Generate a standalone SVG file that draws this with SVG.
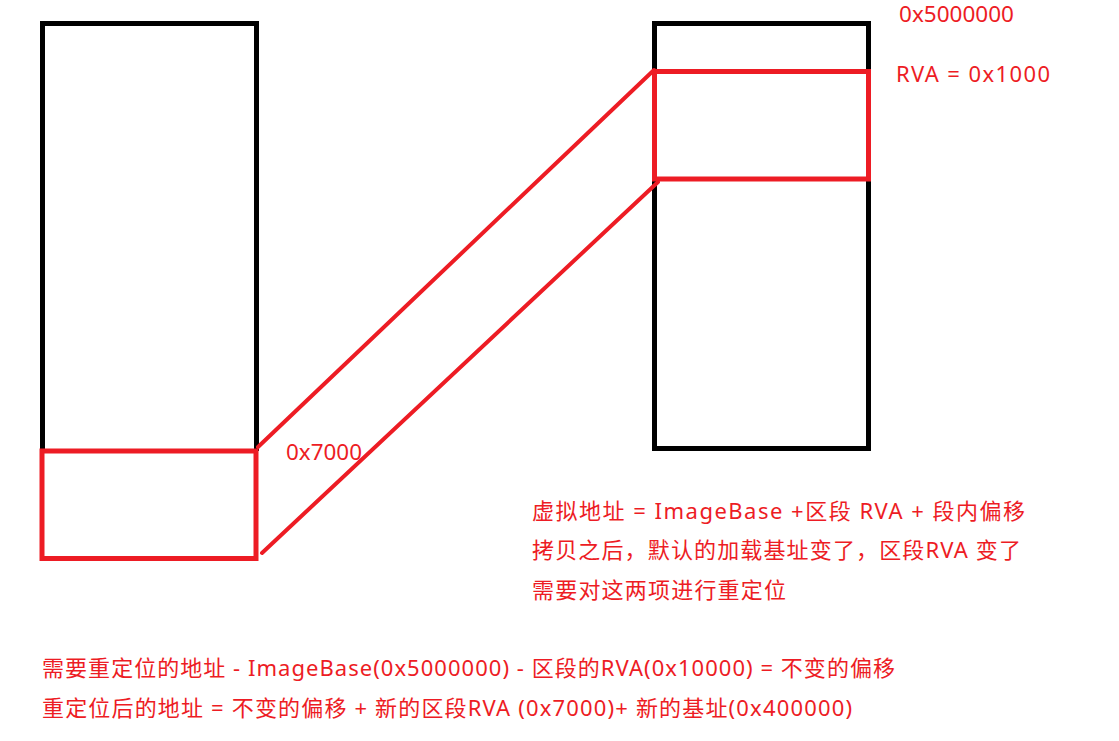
<svg xmlns="http://www.w3.org/2000/svg" width="1119" height="741" viewBox="0 0 1119 741">
<style>
.blk{fill:none;stroke:#000;stroke-width:5}
.red{fill:none;stroke:#ED1C24;stroke-width:5}
.ln{stroke:#ED1C24;stroke-width:4;stroke-linecap:round}
text{font-family:"Noto Sans","Noto Sans CJK SC",sans-serif;font-size:22px;fill:#ED1C24}
</style>
<rect width="1119" height="741" fill="#fff"/>
<g id="left-block">
<path class="blk" d="M42.5,451 V23.5 H256.5 V451"/>
<rect id="left-section" class="red" x="42" y="451" width="214" height="107.5"/>
</g>
<g id="right-block">
<rect class="blk" x="654.5" y="23.5" width="214" height="425"/>
<rect id="right-section" class="red" x="654.5" y="71.5" width="214" height="107.5"/>
</g>
<g id="connectors">
<line class="ln" x1="258" y1="447" x2="654" y2="70"/>
<line class="ln" x1="262" y1="553" x2="658" y2="182"/>
</g>
<g id="labels">
<text x="899" y="22" font-size="21" textLength="115" lengthAdjust="spacingAndGlyphs">0x5000000</text>
<text x="896" y="82" textLength="154" lengthAdjust="spacing">RVA = 0x1000</text>
<text x="286" y="460" textLength="76" lengthAdjust="spacingAndGlyphs">0x7000</text>
<text x="532" y="519" textLength="493" lengthAdjust="spacing">虚拟地址 = ImageBase +区段 RVA + 段内偏移</text>
<text x="532" y="558" textLength="489" lengthAdjust="spacing">拷贝之后，默认的加载基址变了，区段RVA 变了</text>
<text x="532" y="598" textLength="254" lengthAdjust="spacing">需要对这两项进行重定位</text>
<text x="42" y="676" textLength="853" lengthAdjust="spacing">需要重定位的地址 - ImageBase(0x5000000) - 区段的RVA(0x10000) = 不变的偏移</text>
<text x="42" y="716" textLength="810" lengthAdjust="spacing">重定位后的地址 = 不变的偏移 + 新的区段RVA (0x7000)+ 新的基址(0x400000)</text>
</g>
</svg>
